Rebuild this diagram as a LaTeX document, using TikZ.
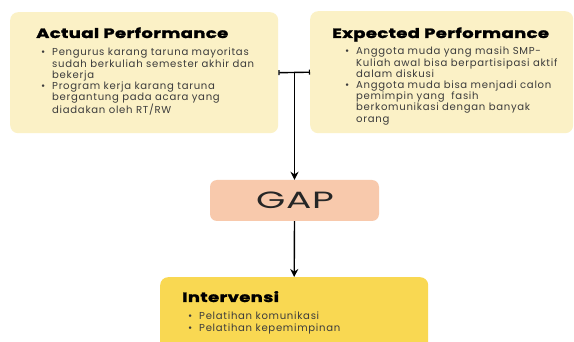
\documentclass[tikz,border=0pt]{standalone}
\usepackage{fontspec}
\setmainfont{Poppins}[LetterSpace=7]
\newfontfamily\titlefont{Poppins}[BoldFeatures={FakeBold=2}, FakeStretch=1.33, LetterSpace=3]
\newfontfamily\gapfont{Poppins}[FakeStretch=1.6, LetterSpace=3]
\usetikzlibrary{arrows.meta}
\definecolor{boxlight}{RGB}{251,241,198}
\definecolor{gapfill}{RGB}{248,201,172}
\definecolor{intfill}{RGB}{249,216,82}
\definecolor{txt}{RGB}{60,60,60}
\tikzset{
  infobox/.style={draw=none, fill=boxlight, rounded corners=8pt, inner sep=0pt, anchor=north west},
  titletext/.style={font=\titlefont\bfseries\fontsize{13.5}{15}\selectfont, text=black, anchor=base west, inner sep=0pt},
  bodytext/.style={font=\fontsize{10.1}{11.2}\selectfont, text=txt, align=left, anchor=north west, inner sep=0pt},
  conn/.style={line width=1.4pt, black},
  arr/.style={conn, -{Stealth[length=8pt,width=8pt]}}
}
\newcommand{\bul}{\makebox[11pt][l]{\textbullet}}
\newcommand{\ind}{\hspace*{11pt}}
\begin{document}
\begin{tikzpicture}[x=1pt,y=-1pt]
\useasboundingbox (0,0) rectangle (574,342);
\clip (0,0) rectangle (574,342);
\fill[white] (0,0) rectangle (574,342);
% boxes
\node[infobox, minimum width=268pt, minimum height=121pt] (actual) at (10,12) {};
\node[infobox, minimum width=263pt, minimum height=122pt] (expected) at (310,11) {};
\node[fill=gapfill, rounded corners=7pt, minimum width=169pt, minimum height=41pt, inner sep=0pt] (gap) at (294.5,200.5) {};
\node[inner sep=0pt, anchor=base, text=black!85] (gaptext) at (295,209) {\gapfont\fontsize{23.5}{25}\selectfont GAP};
\node[infobox, fill=intfill, minimum width=268pt, minimum height=120pt] (interv) at (160,277) {};
% texts
\node[titletext] (t1) at (36,38) {Actual Performance};
\node[bodytext] (b1) at (41,48) {\bul Pengurus karang taruna mayoritas\\
\ind sudah berkuliah semester akhir dan\\
\ind bekerja\\
\bul Program kerja karang taruna\\
\ind bergantung pada acara yang\\
\ind diadakan oleh RT/RW};
\node[titletext] (t2) at (332,38) {Expected Performance};
\node[bodytext] (b2) at (345,47) {\bul Anggota muda yang masih SMP-\\
\ind Kuliah awal bisa berpartisipasi aktif\\
\ind dalam diskusi\\
\bul Anggota muda bisa menjadi calon\\
\ind pemimpin yang\ \ fasih\\
\ind berkomunikasi dengan banyak\\
\ind orang};
\node[titletext] (t3) at (182,302) {Intervensi};
\node[bodytext] (b3) at (188,312) {\bul Pelatihan komunikasi\\
\bul Pelatihan kepemimpinan};
% connectors
\coordinate (junc) at (gap.north |- actual.east);
\draw[conn, {Bar[width=5pt,line width=1.2pt]}-{Bar[width=5pt,line width=1.2pt]}] (actual.east) -- (expected.west);
\draw[arr] (junc) -- (gap.north);
\draw[arr] (gap.south) -- (interv.north);
\end{tikzpicture}
\end{document}
